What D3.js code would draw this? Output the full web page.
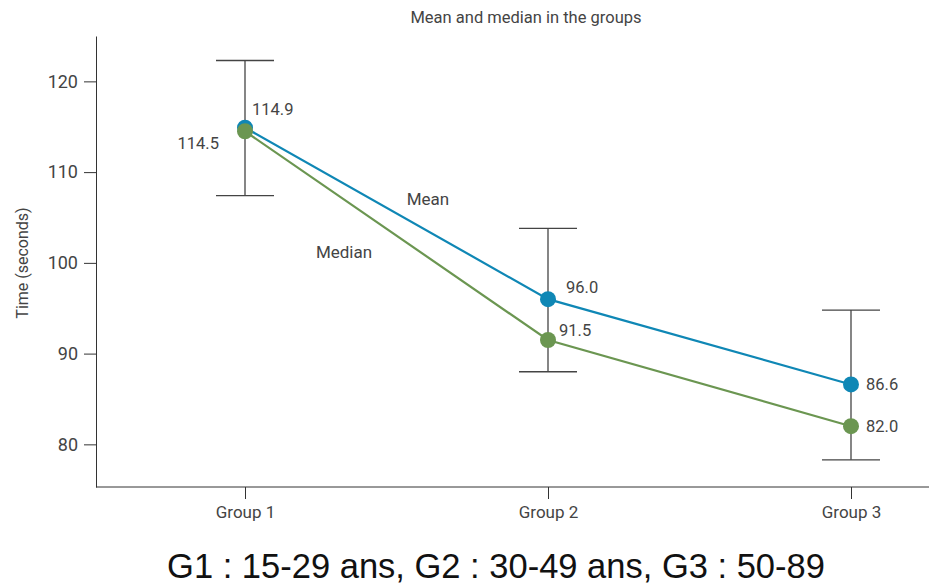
<!DOCTYPE html>
<html><head><meta charset="utf-8">
<script src="https://cdn.jsdelivr.net/npm/d3@7"></script>
<style>body{margin:0;background:#fff;} text{font-family:Roboto, "Noto Sans", sans-serif;}</style>
</head><body><svg id="c" width="929" height="583"></svg>
<script>
const groups = ["Group 1","Group 2","Group 3"];
const meanVals = [114.9, 96.0, 86.6];
const medianVals = [114.5, 91.5, 82.0];
const errHigh = [122.3, 103.8, 94.8];
const errLow = [107.4, 88.0, 78.3];
const yTicks = [80, 90, 100, 110, 120];
const seriesNames = ["Mean","Median"];

const svg = d3.select("#c");
const x = d3.scalePoint().domain(groups).range([245, 851]);
const y = d3.scaleLinear().domain([75.3, 125]).range([487, 36]);
const textCol = "#444";
const blue = "#0f87b5", green = "#6b9651";

// title
svg.append("text").attr("x",526).attr("y",23).attr("text-anchor","middle")
  .attr("font-size",16.5).attr("fill",textCol).text("Mean and median in the groups");

// y axis
const yAx = svg.append("g").attr("transform","translate(96,0)")
  .call(d3.axisLeft(y).tickValues(yTicks).tickSize(12).tickPadding(6).tickSizeOuter(0));
yAx.select(".domain").attr("stroke","#333");
yAx.selectAll(".tick line").attr("stroke","#333");
yAx.selectAll("text").attr("font-size",18).attr("fill",textCol).style("font-family","Roboto, sans-serif");

// x axis
const xAx = svg.append("g").attr("transform","translate(0,487)")
  .call(d3.axisBottom(x).tickSize(12).tickPadding(7).tickSizeOuter(0));
xAx.select(".domain").attr("d","M96,0H929").attr("stroke","#333");
xAx.selectAll(".tick line").attr("stroke","#333");
xAx.selectAll("text").attr("font-size",17).attr("fill",textCol).style("font-family","Roboto, sans-serif");

// y label
svg.append("text").attr("transform","translate(28,263) rotate(-90)").attr("text-anchor","middle")
  .attr("font-size",16).attr("fill",textCol).text("Time (seconds)");

// error bars
const eb = svg.append("g").attr("stroke","#444").attr("stroke-width",1.3);
groups.forEach((g,i)=>{
  eb.append("line").attr("x1",x(g)).attr("x2",x(g)).attr("y1",y(errHigh[i])).attr("y2",y(errLow[i]));
  eb.append("line").attr("x1",x(g)-29).attr("x2",x(g)+29).attr("y1",y(errHigh[i])).attr("y2",y(errHigh[i]));
  eb.append("line").attr("x1",x(g)-29).attr("x2",x(g)+29).attr("y1",y(errLow[i])).attr("y2",y(errLow[i]));
});

const line = d3.line().x((d,i)=>x(groups[i])).y(d=>y(d));
svg.append("path").datum(meanVals).attr("d",line).attr("fill","none").attr("stroke",blue).attr("stroke-width",2.2);
svg.append("path").datum(medianVals).attr("d",line).attr("fill","none").attr("stroke",green).attr("stroke-width",2.2);
svg.selectAll(".mp").data(meanVals).enter().append("circle")
  .attr("cx",(d,i)=>x(groups[i])).attr("cy",d=>y(d)).attr("r",8).attr("fill",blue);
svg.selectAll(".dp").data(medianVals).enter().append("circle")
  .attr("cx",(d,i)=>x(groups[i])).attr("cy",d=>y(d)).attr("r",8).attr("fill",green);

// value labels
const lab = (t,xx,yy,anchor,fs)=>svg.append("text").attr("x",xx).attr("y",yy).attr("text-anchor",anchor||"start")
  .attr("font-size",fs||16.5).attr("fill",textCol).text(t);
lab(meanVals[0].toFixed(1), x(groups[0])+7, y(meanVals[0])-13);
lab(medianVals[0].toFixed(1), x(groups[0])-26, y(medianVals[0])+18, "end");
lab(meanVals[1].toFixed(1), x(groups[1])+18, y(meanVals[1])-6);
lab(medianVals[1].toFixed(1), x(groups[1])+11, y(medianVals[1])-4);
lab(meanVals[2].toFixed(1), x(groups[2])+15, y(meanVals[2])+6);
lab(medianVals[2].toFixed(1), x(groups[2])+15, y(medianVals[2])+6);

// series labels
lab(seriesNames[0], 428, 205, "middle", 17);
lab(seriesNames[1], 344, 258, "middle", 17);

// caption
svg.append("text").attr("x",496).attr("y",578).attr("text-anchor","middle")
  .attr("font-size",34.5).attr("fill","#111").style("font-family","'Liberation Sans', Arial, sans-serif")
  .text("G1 : 15-29 ans, G2 : 30-49 ans, G3 : 50-89");
</script></body></html>
